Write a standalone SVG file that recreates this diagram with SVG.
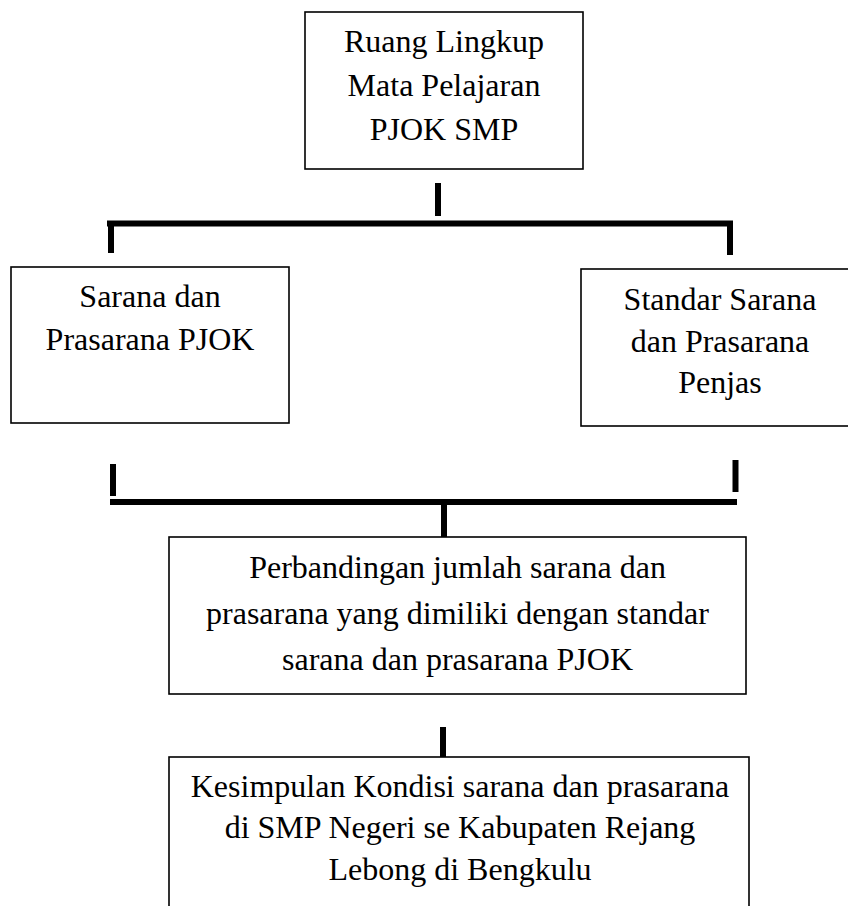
<svg xmlns="http://www.w3.org/2000/svg" width="848" height="906" viewBox="0 0 848 906">
<style>
.box{fill:#ffffff;stroke:#000000;stroke-width:1.6}
.lbl{font-family:"Liberation Serif","Times New Roman",serif;font-size:32px;fill:#000000;text-anchor:middle}
.con{stroke:#000000;stroke-width:6;fill:none;stroke-linecap:butt}
</style>
<rect x="0" y="0" width="848" height="906" fill="#ffffff"/>
<g id="connectors">
<line class="con" x1="438" y1="183" x2="438" y2="216"/>
<line class="con" x1="107" y1="223.5" x2="733" y2="223.5" stroke-width="5.5"/>
<line class="con" x1="111" y1="223" x2="111" y2="253"/>
<line class="con" x1="730" y1="223" x2="730" y2="255"/>
<line class="con" x1="113" y1="464" x2="113" y2="496"/>
<line class="con" x1="735.5" y1="460" x2="735.5" y2="492"/>
<line class="con" x1="110" y1="502" x2="737" y2="502"/>
<line class="con" x1="444" y1="505" x2="444" y2="537"/>
<line class="con" x1="443" y1="727" x2="443" y2="757"/>
</g>
<g id="node-ruang-lingkup">
<rect class="box" x="305" y="12" width="278" height="157"/>
<text class="lbl" x="444" y="52">Ruang Lingkup</text>
<text class="lbl" x="444" y="96">Mata Pelajaran</text>
<text class="lbl" x="444" y="140">PJOK SMP</text>
</g>
<g id="node-sarana">
<rect class="box" x="11" y="267" width="278" height="156"/>
<text class="lbl" x="150" y="307">Sarana dan</text>
<text class="lbl" x="150" y="350">Prasarana PJOK</text>
</g>
<g id="node-standar">
<rect class="box" x="581" y="269" width="280" height="157"/>
<text class="lbl" x="720" y="310">Standar Sarana</text>
<text class="lbl" x="720" y="352">dan Prasarana</text>
<text class="lbl" x="720" y="393">Penjas</text>
</g>
<g id="node-perbandingan">
<rect class="box" x="169" y="537" width="577" height="157"/>
<text class="lbl" x="457.5" y="578">Perbandingan jumlah sarana dan</text>
<text class="lbl" x="457.5" y="624">prasarana yang dimiliki dengan standar</text>
<text class="lbl" x="457.5" y="670">sarana dan prasarana PJOK</text>
</g>
<g id="node-kesimpulan">
<rect class="box" x="169" y="757" width="580" height="170"/>
<text class="lbl" x="460" y="797">Kesimpulan Kondisi sarana dan prasarana</text>
<text class="lbl" x="460" y="838">di SMP Negeri se Kabupaten Rejang</text>
<text class="lbl" x="460" y="880">Lebong di Bengkulu</text>
</g>
</svg>
